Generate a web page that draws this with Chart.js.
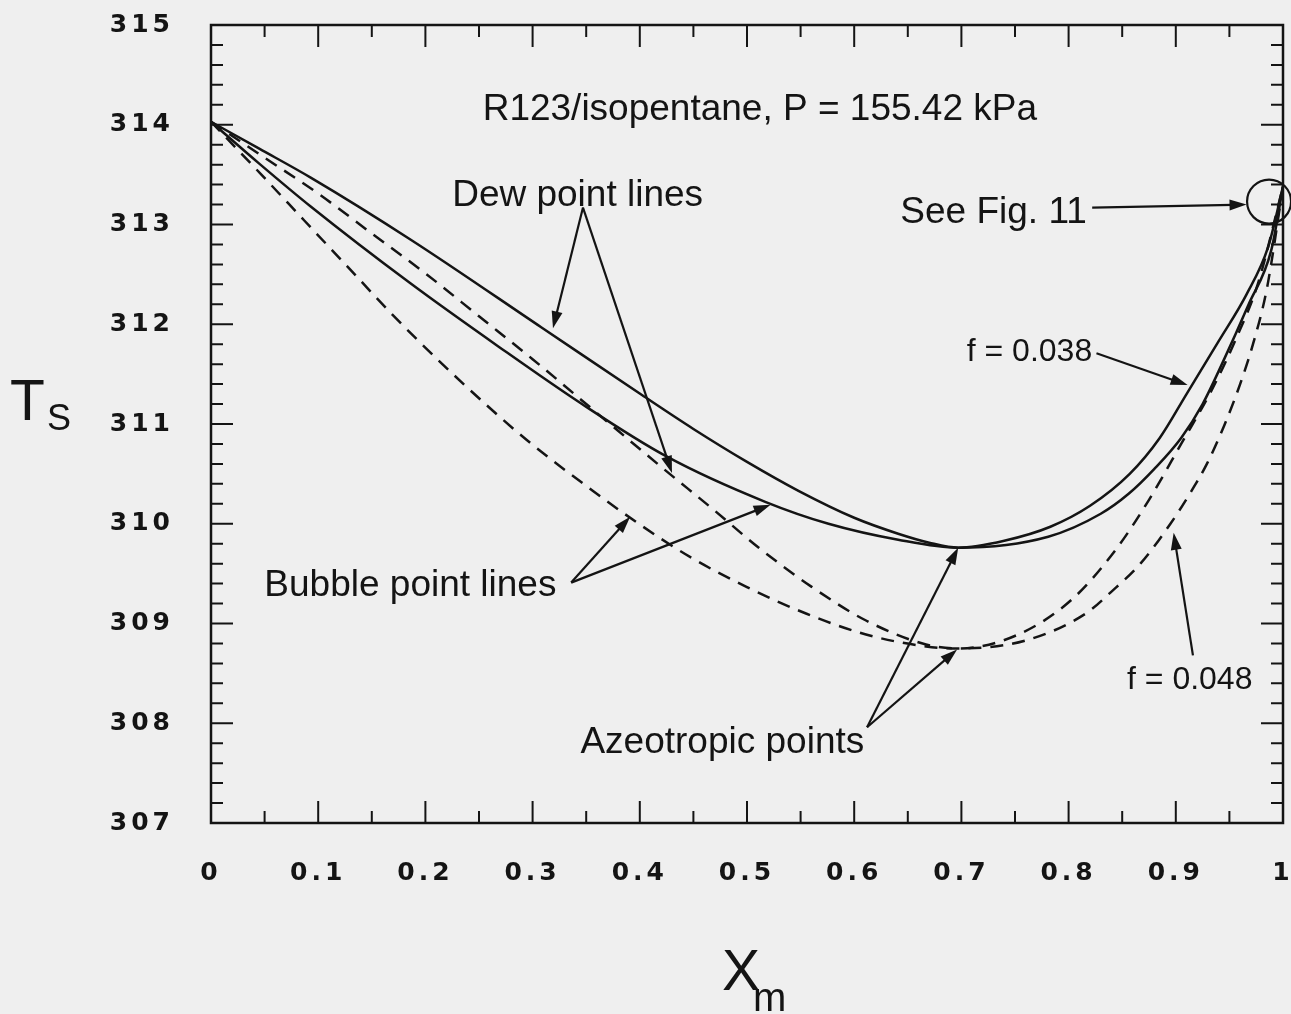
<!DOCTYPE html>
<html><head><meta charset="utf-8">
<script src="https://cdn.jsdelivr.net/npm/chart.js@4/dist/chart.umd.min.js"></script>
<style>html,body{margin:0;padding:0;background:#efefef;overflow:hidden}</style>
</head><body>
<canvas id="c" width="1291" height="1014"></canvas>
<script>
// ---- data ----
const xTickValues = [0, 0.1, 0.2, 0.3, 0.4, 0.5, 0.6, 0.7, 0.8, 0.9, 1];
const yTickValues = [307, 308, 309, 310, 311, 312, 313, 314, 315];

// f = 0.038 (solid): dew point line
const dew038X = [0, 0.045, 0.093, 0.186, 0.308, 0.402, 0.45, 0.5, 0.548, 0.6, 0.641, 0.67, 0.697, 0.74, 0.783, 0.82, 0.857, 0.885, 0.91, 0.94, 0.966, 0.986, 1];
const dew038T = [314.03, 313.76, 313.47, 312.85, 311.97, 311.29, 310.95, 310.62, 310.33, 310.06, 309.90, 309.81, 309.76, 309.83, 309.97, 310.18, 310.50, 310.86, 311.30, 311.83, 312.30, 312.77, 313.38];
// f = 0.038 (solid): bubble point line
const bub038X = [0, 0.045, 0.093, 0.186, 0.269, 0.346, 0.424, 0.517, 0.576, 0.641, 0.697, 0.781, 0.83, 0.856, 0.88, 0.905, 0.925, 0.943, 0.968, 0.989, 1];
const bub038T = [314.03, 313.61, 313.18, 312.41, 311.77, 311.20, 310.68, 310.22, 310.00, 309.84, 309.76, 309.87, 310.10, 310.30, 310.55, 310.86, 311.20, 311.60, 312.20, 312.74, 313.38];
// f = 0.048 (dashed): dew point line
const dew048X = [0, 0.05, 0.1, 0.15, 0.2, 0.25, 0.3, 0.36, 0.42, 0.47, 0.511, 0.56, 0.611, 0.667, 0.697, 0.751, 0.803, 0.844, 0.875, 0.905, 0.933, 0.956, 0.977, 1];
const dew048T = [314.03, 313.67, 313.31, 312.91, 312.51, 312.08, 311.65, 311.11, 310.57, 310.13, 309.76, 309.37, 309.03, 308.79, 308.75, 308.88, 309.24, 309.74, 310.24, 310.80, 311.33, 311.85, 312.42, 313.38];
// f = 0.048 (dashed): bubble point line
const bub048X = [0, 0.047, 0.087, 0.128, 0.168, 0.212, 0.258, 0.299, 0.35, 0.399, 0.448, 0.499, 0.555, 0.611, 0.667, 0.697, 0.76, 0.816, 0.839, 0.867, 0.895, 0.913, 0.929, 0.945, 0.96, 0.972, 0.985, 1];
const bub048T = [314.03, 313.50, 313.04, 312.57, 312.11, 311.64, 311.18, 310.80, 310.38, 310.00, 309.66, 309.37, 309.10, 308.89, 308.77, 308.75, 308.83, 309.10, 309.31, 309.60, 310.00, 310.30, 310.60, 310.98, 311.40, 311.80, 312.36, 313.38];

const titleText = 'R123/isopentane, P = 155.42 kPa';
const labelDew = 'Dew point lines';
const labelBubble = 'Bubble point lines';
const labelAzeo = 'Azeotropic points';
const labelSeeFig = 'See Fig. 11';
const labelF1 = 'f = 0.038';
const labelF2 = 'f = 0.048';
const yAxisTitle = ['T', 'S'];
const xAxisTitle = ['X', 'm'];

// ---- build ----
const pts = (xs, ts) => xs.map((x, i) => ({x: x, y: ts[i]}));
const INK = '#141414';
const lineBase = {borderColor: INK, borderWidth: 2.5, pointRadius: 0, fill: false, cubicInterpolationMode: 'monotone'};

const P = (c, x, t) => [c.scales.x.getPixelForValue(x), c.scales.y.getPixelForValue(t)];
function arrow(ctx, a, b) {
  const ang = Math.atan2(b[1] - a[1], b[0] - a[0]);
  const L = 17, W = 5.5;
  ctx.beginPath(); ctx.moveTo(a[0], a[1]);
  ctx.lineTo(b[0] - (L - 3) * Math.cos(ang), b[1] - (L - 3) * Math.sin(ang)); ctx.stroke();
  ctx.beginPath(); ctx.moveTo(b[0], b[1]);
  ctx.lineTo(b[0] - L * Math.cos(ang) + W * Math.sin(ang), b[1] - L * Math.sin(ang) - W * Math.cos(ang));
  ctx.lineTo(b[0] - L * Math.cos(ang) - W * Math.sin(ang), b[1] - L * Math.sin(ang) + W * Math.cos(ang));
  ctx.closePath(); ctx.fill();
}

const decor = {
  id: 'decor',
  beforeDraw(c) {
    const ctx = c.ctx;
    ctx.save(); ctx.fillStyle = '#efefef'; ctx.fillRect(0, 0, c.width, c.height); ctx.restore();
    ctx.letterSpacing = '4px';
  },
  beforeDatasetsDraw(c) { c.ctx.letterSpacing = '0px'; },
  afterDatasetsDraw(c) {
    const ctx = c.ctx, a = c.chartArea, xs = c.scales.x, ys = c.scales.y;
    ctx.save();
    ctx.strokeStyle = INK; ctx.fillStyle = INK; ctx.lineCap = 'butt';
    // frame
    ctx.lineWidth = 2.5;
    ctx.strokeRect(a.left, a.top, a.right - a.left, a.bottom - a.top);
    // ticks (inward, all four sides)
    ctx.lineWidth = 2;
    ctx.beginPath();
    for (let k = 0; k <= 20; k++) {
      const v = k * 0.05, p = xs.getPixelForValue(v), len = (k % 2 === 0) ? 22 : 12;
      ctx.moveTo(p, a.bottom); ctx.lineTo(p, a.bottom - len);
      ctx.moveTo(p, a.top); ctx.lineTo(p, a.top + len);
    }
    for (let k = 0; k <= 40; k++) {
      const v = 307 + k * 0.2, p = ys.getPixelForValue(v), len = (k % 5 === 0) ? 22 : 12;
      ctx.moveTo(a.left, p); ctx.lineTo(a.left + len, p);
      ctx.moveTo(a.right, p); ctx.lineTo(a.right - len, p);
    }
    ctx.stroke();

    // annotations
    ctx.textBaseline = 'middle';
    ctx.font = '37px "Liberation Sans", Arial, sans-serif';
    ctx.textAlign = 'center';
    let p;
    p = P(c, 0.512, 314.15); ctx.fillText(titleText, p[0], p[1]);
    p = P(c, 0.342, 313.29); ctx.fillText(labelDew, p[0], p[1]);
    p = P(c, 0.186, 309.38); ctx.fillText(labelBubble, p[0], p[1]);
    p = P(c, 0.477, 307.80); ctx.fillText(labelAzeo, p[0], p[1]);
    ctx.textAlign = 'right';
    p = P(c, 0.817, 313.12); ctx.fillText(labelSeeFig, p[0], p[1]);
    ctx.font = '32px "Liberation Sans", Arial, sans-serif';
    p = P(c, 0.822, 311.72); ctx.fillText(labelF1, p[0], p[1]);
    ctx.textAlign = 'center';
    p = P(c, 0.913, 308.43); ctx.fillText(labelF2, p[0], p[1]);

    ctx.lineWidth = 2.2;
    arrow(ctx, P(c, 0.347, 313.17), P(c, 0.319, 311.96));
    arrow(ctx, P(c, 0.347, 313.17), P(c, 0.430, 310.51));
    arrow(ctx, P(c, 0.336, 309.41), P(c, 0.391, 310.07));
    arrow(ctx, P(c, 0.336, 309.41), P(c, 0.522, 310.19));
    arrow(ctx, P(c, 0.612, 307.96), P(c, 0.697, 309.76));
    arrow(ctx, P(c, 0.612, 307.96), P(c, 0.696, 308.74));
    arrow(ctx, P(c, 0.822, 313.17), P(c, 0.966, 313.20));
    arrow(ctx, P(c, 0.826, 311.71), P(c, 0.911, 311.39));
    arrow(ctx, P(c, 0.916, 308.68), P(c, 0.898, 309.91));
    // circle
    p = P(c, 0.987, 313.23);
    ctx.beginPath(); ctx.arc(p[0], p[1], 22, 0, Math.PI * 2); ctx.stroke();

    // axis titles with subscripts
    ctx.textAlign = 'left'; ctx.textBaseline = 'alphabetic';
    ctx.font = '57px "Liberation Sans", Arial, sans-serif';
    ctx.fillText(yAxisTitle[0], 10, 420);
    ctx.fillText(xAxisTitle[0], 722, 990);
    ctx.font = '36px "Liberation Sans", Arial, sans-serif';
    ctx.fillText(yAxisTitle[1], 47, 430);
    ctx.font = '40px "Liberation Sans", Arial, sans-serif';
    ctx.fillText(xAxisTitle[1], 753, 1011);
    ctx.restore();
  }
};

new Chart(document.getElementById('c'), {
  type: 'line',
  data: {
    datasets: [
      Object.assign({label: 'Dew f=0.038', data: pts(dew038X, dew038T)}, lineBase),
      Object.assign({label: 'Bubble f=0.038', data: pts(bub038X, bub038T)}, lineBase),
      Object.assign({label: 'Dew f=0.048', data: pts(dew048X, dew048T), borderDash: [13, 9]}, lineBase),
      Object.assign({label: 'Bubble f=0.048', data: pts(bub048X, bub048T), borderDash: [13, 9]}, lineBase)
    ]
  },
  options: {
    responsive: false, animation: false, devicePixelRatio: 1,
    layout: {padding: {left: 0, top: 25, right: 8, bottom: 0}},
    plugins: {legend: {display: false}, tooltip: {enabled: false}},
    scales: {
      x: {
        type: 'linear', min: 0, max: 1,
        afterBuildTicks: s => { s.ticks = xTickValues.map(v => ({value: v})); },
        afterFit: s => { s.height = 191; s.paddingLeft = 0; s.paddingRight = 0; },
        ticks: {
          color: INK, padding: 35,
          font: {family: '"DejaVu Sans", sans-serif', size: 25, weight: 'bold'},
          callback: v => String(Number(v.toFixed(2)))
        },
        grid: {display: false, drawTicks: false}, border: {display: false}
      },
      y: {
        type: 'linear', min: 307, max: 315,
        afterBuildTicks: s => { s.ticks = yTickValues.map(v => ({value: v})); },
        afterFit: s => { s.width = 211; s.paddingTop = 0; s.paddingBottom = 0; },
        ticks: {
          color: INK, padding: 37,
          font: {family: '"DejaVu Sans", sans-serif', size: 25, weight: 'bold'},
          callback: v => String(v)
        },
        grid: {display: false, drawTicks: false}, border: {display: false}
      }
    }
  },
  plugins: [decor]
});
</script>
</body></html>
